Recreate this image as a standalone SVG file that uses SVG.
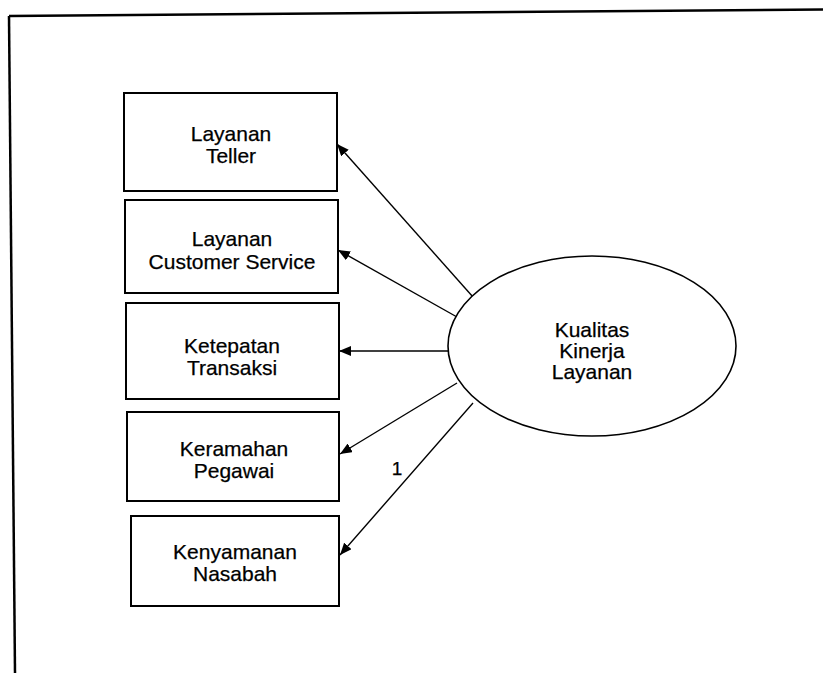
<svg xmlns="http://www.w3.org/2000/svg" width="823" height="673" viewBox="0 0 823 673">
  <defs>
    <marker id="arrow" viewBox="0 0 12 10" refX="12" refY="5" markerWidth="12" markerHeight="10" markerUnits="userSpaceOnUse" orient="auto">
      <path d="M0,0 L12,5 L0,10 Z" fill="#000"/>
    </marker>
    <style>
      .frame { fill: none; stroke: #000; stroke-width: 2.5; }
      .box { fill: #fff; stroke: #000; stroke-width: 2; }
      .latent { fill: #fff; stroke: #000; stroke-width: 1.6; }
      .link { fill: none; stroke: #000; stroke-width: 1.4; marker-end: url(#arrow); }
      text { font-family: "Liberation Sans", Arial, sans-serif; font-size: 21px; fill: #000; stroke: #000; stroke-width: 0.25; text-anchor: middle; }
    </style>
  </defs>
  <rect width="823" height="673" fill="#fff"/>

  <!-- outer border (top and left edges) -->
  <g id="frame">
    <path class="frame" d="M9,16 L823,9.5"/>
    <path class="frame" d="M9,16 L15,673"/>
  </g>

  <!-- paths from the latent factor to its indicators -->
  <g id="connectors">
    <line class="link" x1="473" y1="297" x2="337" y2="144"/>
    <line class="link" x1="457" y1="317" x2="338" y2="250"/>
    <line class="link" x1="449" y1="351" x2="339" y2="351"/>
    <line class="link" x1="457" y1="383" x2="340" y2="454"/>
    <line class="link" x1="473" y1="403" x2="340" y2="555"/>
    <text x="397" y="475" style="font-size:19px">1</text>
  </g>

  <g id="teller">
    <rect class="box" x="124" y="93" width="213" height="98"/>
    <text x="231" y="141">Layanan</text>
    <text x="231" y="163">Teller</text>
  </g>

  <g id="customer-service">
    <rect class="box" x="125" y="200" width="213" height="93"/>
    <text x="232" y="246">Layanan</text>
    <text x="232" y="269">Customer Service</text>
  </g>

  <g id="ketepatan">
    <rect class="box" x="126" y="303" width="213" height="96"/>
    <text x="232" y="353">Ketepatan</text>
    <text x="232" y="375">Transaksi</text>
  </g>

  <g id="keramahan">
    <rect class="box" x="127" y="412" width="212" height="89"/>
    <text x="234" y="456">Keramahan</text>
    <text x="234" y="478">Pegawai</text>
  </g>

  <g id="kenyamanan">
    <rect class="box" x="131" y="516" width="208" height="90"/>
    <text x="235" y="559">Kenyamanan</text>
    <text x="235" y="581">Nasabah</text>
  </g>

  <g id="kualitas">
    <ellipse class="latent" cx="592" cy="346" rx="144" ry="90"/>
    <text x="592" y="337">Kualitas</text>
    <text x="592" y="358">Kinerja</text>
    <text x="592" y="379">Layanan</text>
  </g>
</svg>
